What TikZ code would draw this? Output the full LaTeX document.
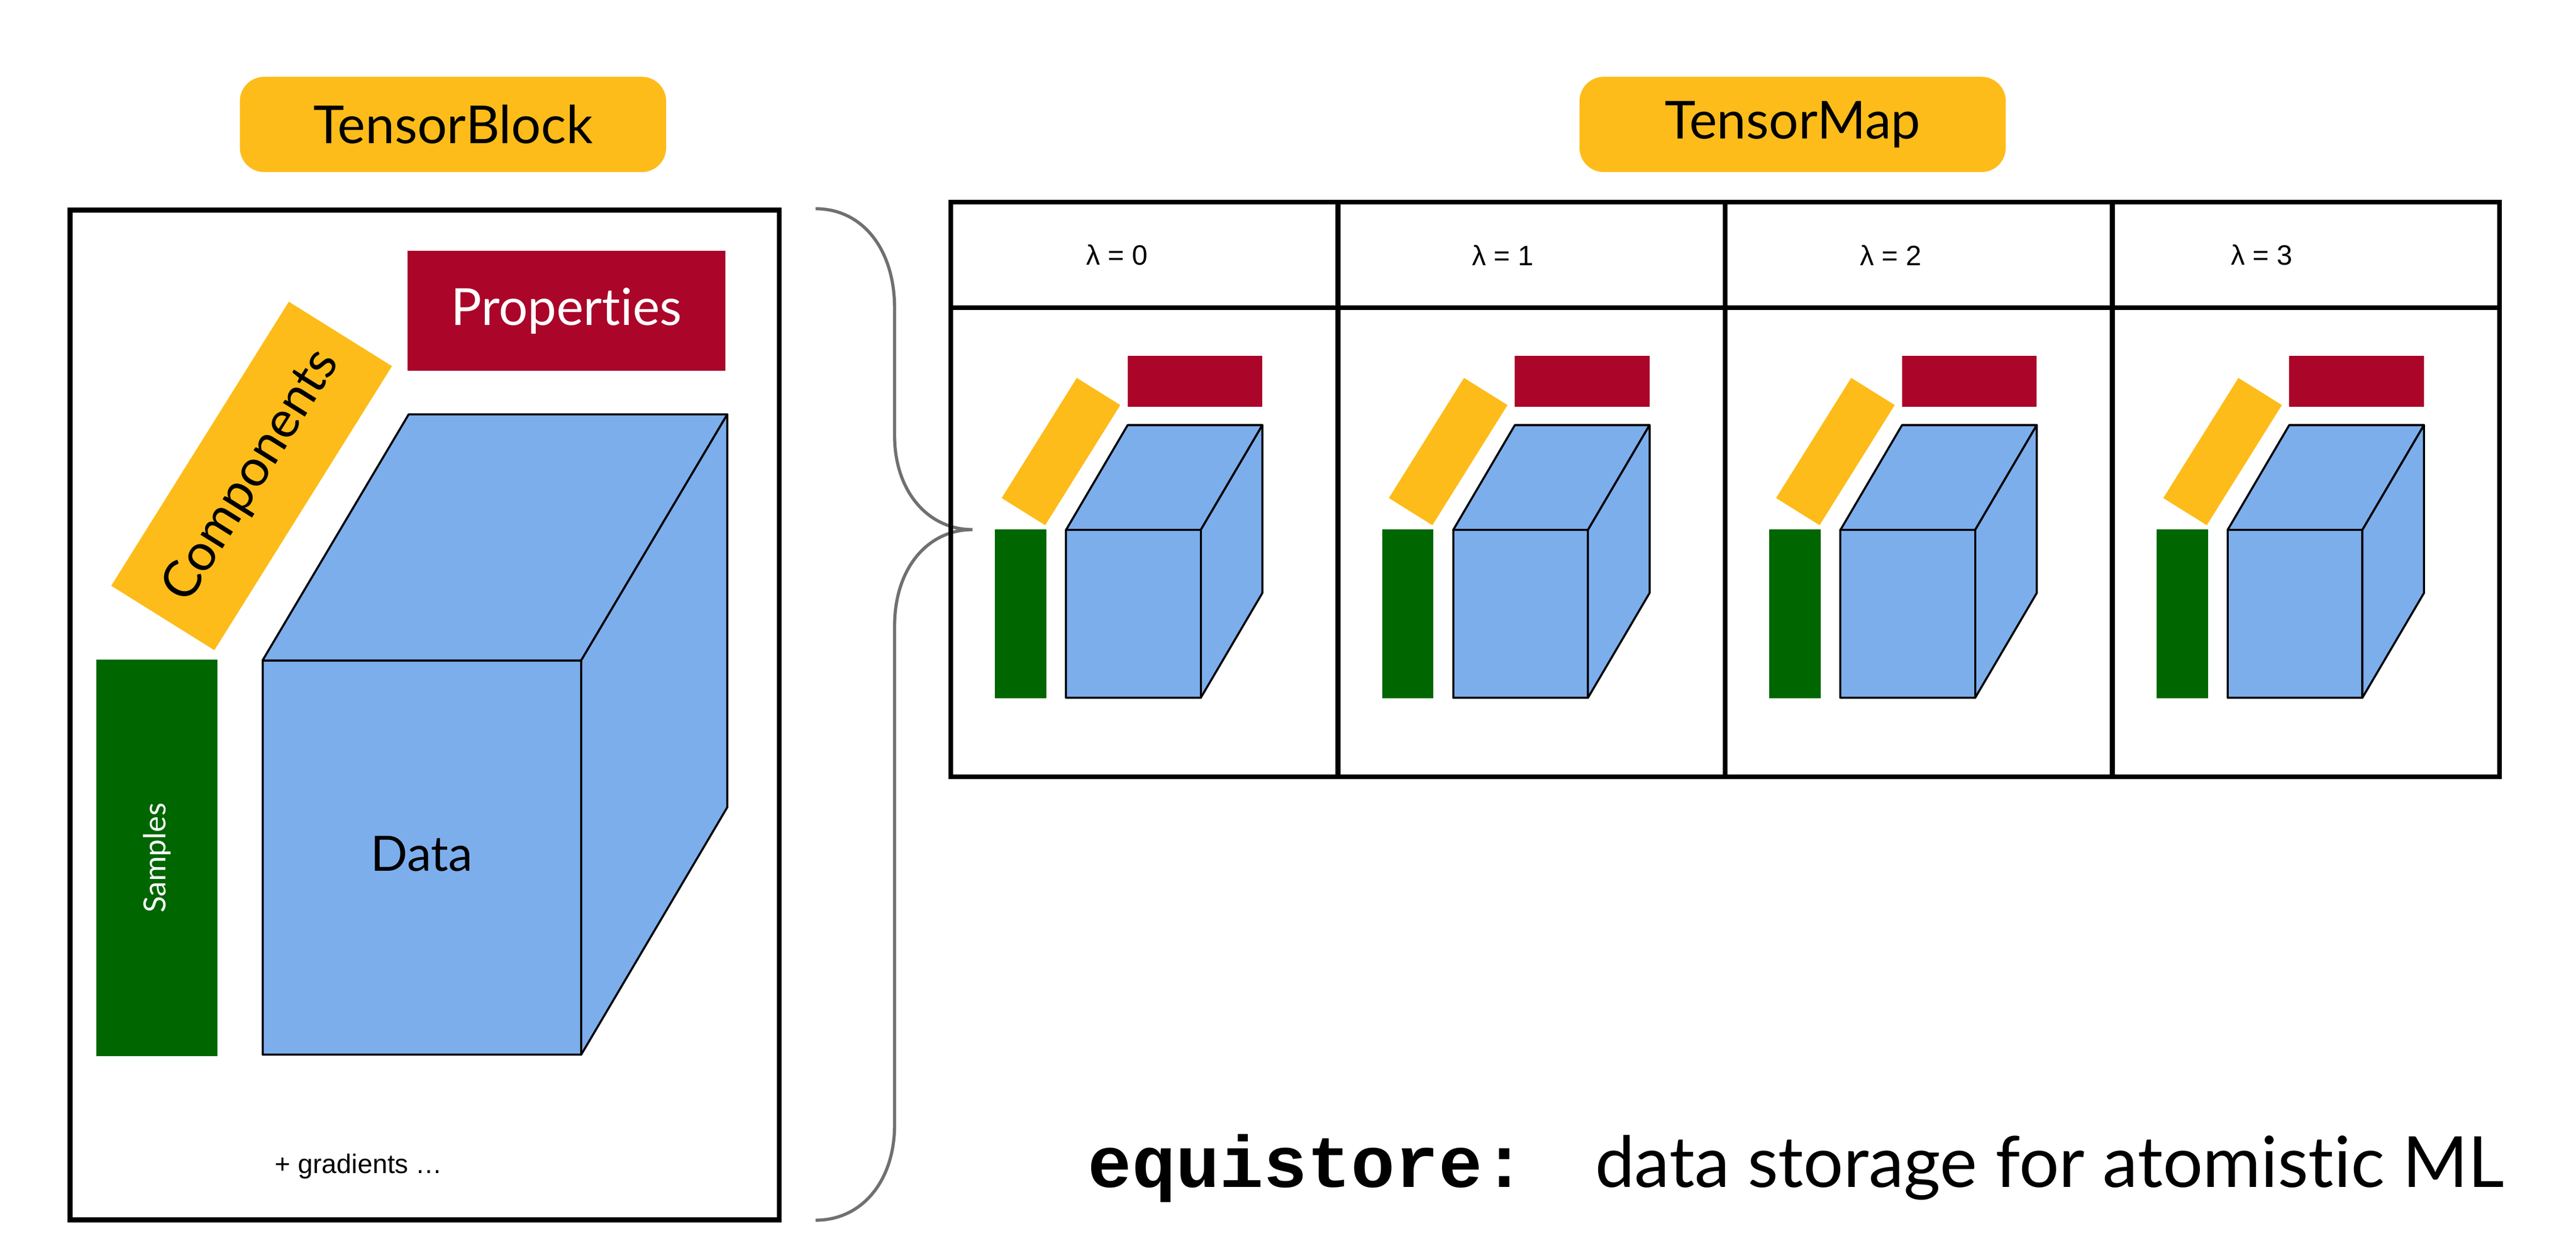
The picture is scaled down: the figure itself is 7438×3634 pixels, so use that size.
\documentclass[tikz,border=0pt]{standalone}
\usepackage{fontspec}
\setmainfont{Lato}[Ligatures={NoCommon,NoDiscretionary}]
\newfontfamily\arialf{Liberation Sans}
\newfontfamily\monof{Liberation Mono}
\definecolor{cyel}{HTML}{FDBC19}
\definecolor{cred}{HTML}{AB052A}
\definecolor{cgreen}{HTML}{006600}
\definecolor{cblue}{HTML}{7DAEEC}
\definecolor{cgrey}{HTML}{707070}
\tikzset{
  pill/.style={fill=cyel, rounded corners=0.7cm, inner sep=0pt, minimum width=12.3cm, minimum height=2.75cm, font=\fontsize{43}{50}\selectfont},
  bigtext/.style={font=\fontsize{42}{50}\selectfont},
  propbox/.style={fill=cred, text=white, inner sep=0pt},
  compbox/.style={fill=cyel, inner sep=0pt, rotate=58},
  sampbox/.style={fill=cgreen, text=white, inner sep=0pt},
  cubeface/.style={fill=cblue, draw=black, line width=1.7pt, line join=round},
  frame/.style={draw=black, line width=4pt},
  lamlabel/.style={font=\arialf\fontsize{23}{28}\selectfont, inner sep=0pt},
  bracestyle/.style={draw=cgrey, line width=2.6pt}
}
\begin{document}
\begin{tikzpicture}[x=0.01cm,y=-0.01cm]
\useasboundingbox (0,0) rectangle (7438,3634);

% ---------- TensorBlock ----------
\node[pill] (tbpill) at (1308,359.5) {TensorBlock};
\draw[frame] (202,607) rectangle (2250,3524);
\node[propbox, bigtext, minimum width=9.17cm, minimum height=3.46cm] (props) at (1635.5,898) {Properties};
\node[compbox, bigtext, minimum width=9.67cm, minimum height=3.51cm] (comps) at (726.5,1375) {Components};
\node[sampbox, rotate=90, minimum width=11.45cm, minimum height=3.49cm, font=\fontsize{25}{30}\selectfont] (samps) at (453.5,2478.5) {Samples};
% cube
\draw[cubeface] (758,1908) -- (1180,1197) -- (2100,1197) -- (1678,1908) -- cycle;
\draw[cubeface] (1678,1908) -- (2100,1197) -- (2100,2332) -- (1678,3047) -- cycle;
\draw[cubeface] (758,1908) rectangle (1678,3047);
\node[font=\fontsize{40}{48}\selectfont] (data) at (1218,2466) {Data};
\node[font=\arialf\fontsize{22}{26}\selectfont] (grad) at (1036,3370) {+ gradients …};

% ---------- brace ----------
\coordinate (bt) at (2355,603);
\coordinate (bb) at (2355,3525);
\coordinate (btip) at (2808,1530);
\draw[bracestyle] (bt) .. controls (2490,603) and (2583,720) .. (2583,890)
  -- (2583,1258) .. controls (2583,1420) and (2680,1530) .. (btip)
  .. controls (2680,1530) and (2583,1640) .. (2583,1809)
  -- (2583,3250) .. controls (2583,3410) and (2490,3525) .. (bb);

% ---------- TensorMap ----------
\node[pill] (tmpill) at (5176,359.5) {TensorMap};
\draw[frame] (2745,584) rectangle (7217,2244);
\draw[frame] (2745,889) -- (7217,889);
\foreach \xx in {3863,4981,6099} {\draw[frame] (\xx,584) -- (\xx,2244);}

\foreach \L/\lam/\lx in {2745/0/3225, 3863/1/4339, 4981/2/5459, 6099/3/6531} {
  \node[lamlabel] (lam\lam) at (\lx,737) {λ = \lam};
  \node[propbox, minimum width=3.89cm, minimum height=1.47cm] (sprop\lam) at (\L+705.5,1101.5) {};
  \node[compbox, minimum width=4.09cm, minimum height=1.48cm] (scomp\lam) at (\L+318.5,1304.5) {};
  \node[sampbox, minimum width=1.48cm, minimum height=4.87cm] (ssamp\lam) at (\L+202,1773.5) {};
  \draw[cubeface] (\L+333,1531) -- (\L+511,1228) -- (\L+900,1228) -- (\L+722,1531) -- cycle;
  \draw[cubeface] (\L+722,1531) -- (\L+900,1228) -- (\L+900,1713) -- (\L+722,2016) -- cycle;
  \draw[cubeface] (\L+333,1531) rectangle (\L+722,2016);
}

% ---------- caption ----------
\node[anchor=base west, inner sep=0pt, font=\monof\bfseries\fontsize{60}{70}\selectfont] (eq) at (3141,3430) {equistore:};
\node[anchor=base west, inner sep=0pt, font=\fontsize{58}{70}\selectfont] (cap) at (4605,3430) {data storage for atomistic ML};
\end{tikzpicture}
\end{document}
